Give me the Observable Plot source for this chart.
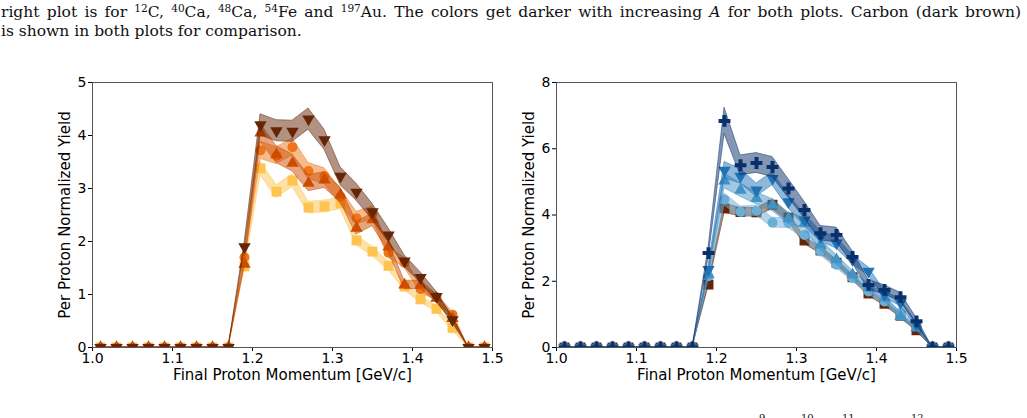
<!DOCTYPE html>
<html>
<head>
<meta charset="utf-8">
<script src="https://cdn.jsdelivr.net/npm/d3@7"></script>
<script src="https://cdn.jsdelivr.net/npm/@observablehq/plot@0.6"></script>
<style>
  html, body { margin: 0; padding: 0; background: white; overflow: hidden; }
  #page { position: relative; width: 1027px; height: 418px; overflow: hidden; }
  #caption { position: absolute; left: 1px; top: 3px; width: 1020px;
             font-family: "DejaVu Serif", serif; font-size: 15.5px; line-height: 19px; color: #111; }
  #caption .full { text-align: justify; text-align-last: justify; }
  #caption sup { font-size: 0.68em; line-height: 0; vertical-align: 0.5em; }
  .panel { position: absolute; top: 50px; }
  #next { position: absolute; top: 412px; left: 0; width: 1027px; height: 20px;
          font-family: "DejaVu Serif", serif; font-size: 10px; color: #111; }
  #next span { position: absolute; top: 0; }
</style>
</head>
<body>
<div id="page">
  <div id="caption">
    <div class="full">right plot is for <sup>12</sup>C, <sup>40</sup>Ca, <sup>48</sup>Ca, <sup>54</sup>Fe and <sup>197</sup>Au. The colors get darker with increasing <i>A</i> for both plots. Carbon (dark brown)</div>
    <div>is shown in both plots for comparison.</div>
  </div>
  <div id="left" class="panel" style="left:0px"></div>
  <div id="right" class="panel" style="left:500px"></div>
  <div id="next"><span style="left:759px">9</span><span style="left:801px">10</span><span style="left:842px">11</span><span style="left:911px">12</span></div>
</div>
<script>
// Bin centres of the final proton momentum [GeV/c]
const momentum = [1.01, 1.03, 1.05, 1.07, 1.09, 1.11, 1.13, 1.15, 1.17, 1.19, 1.21, 1.23, 1.25,
                  1.27, 1.29, 1.31, 1.33, 1.35, 1.37, 1.39, 1.41, 1.43, 1.45, 1.47, 1.49];

// Light nuclei (left panel): per proton normalized yields and band half-widths
const beryllium9    = [0,0,0,0,0,0,0,0,0, 1.53, 3.38, 2.94, 3.15, 2.64, 2.66, 2.72, 2.02, 1.81, 1.54, 1.15, 0.91, 0.73, 0.37, 0,0];
const beryllium9Err = [0,0,0,0,0,0,0,0,0, 0.05, 0.13, 0.12, 0.12, 0.11, 0.11, 0.11, 0.09, 0.09, 0.08, 0.07, 0.06, 0.06, 0.05, 0,0];
const boron10       = [0,0,0,0,0,0,0,0,0, 1.70, 3.72, 3.62, 3.78, 3.33, 3.23, 2.85, 2.44, 2.54, 1.79, 1.60, 1.10, 0.95, 0.62, 0,0];
const boron10Err    = [0,0,0,0,0,0,0,0,0, 0.06, 0.16, 0.16, 0.16, 0.15, 0.15, 0.14, 0.12, 0.12, 0.10, 0.09, 0.07, 0.06, 0.05, 0,0];
const boron11       = [0,0,0,0,0,0,0,0,0, 1.57, 4.05, 3.64, 3.48, 3.10, 3.16, 2.88, 2.25, 2.41, 1.90, 1.18, 1.18, 0.93, 0.55, 0,0];
const boron11Err    = [0,0,0,0,0,0,0,0,0, 0.06, 0.17, 0.16, 0.16, 0.15, 0.15, 0.14, 0.12, 0.12, 0.10, 0.08, 0.08, 0.07, 0.05, 0,0];

// Carbon-12, drawn in both panels
const carbon12      = [0,0,0,0,0,0,0,0,0, 1.90, 4.20, 4.09, 4.08, 4.31, 3.92, 3.23, 2.93, 2.56, 2.12, 1.63, 1.32, 0.96, 0.52, 0,0];
const carbon12ErrLeft  = [0,0,0,0,0,0,0,0,0, 0.07, 0.20, 0.20, 0.20, 0.20, 0.19, 0.17, 0.16, 0.15, 0.13, 0.11, 0.10, 0.09, 0.06, 0,0];
const carbon12ErrRight = [0,0,0,0,0,0,0,0,0, 0.06, 0.14, 0.13, 0.13, 0.13, 0.12, 0.11, 0.10, 0.09, 0.08, 0.07, 0.06, 0.05, 0.04, 0,0];

// Heavier nuclei (right panel)
const calcium40     = [0,0,0,0,0,0,0,0,0, 2.15, 4.47, 4.10, 4.13, 3.77, 3.75, 3.40, 2.90, 2.50, 2.10, 1.69, 1.39, 1.04, 0.64, 0,0];
const calcium40Err  = [0,0,0,0,0,0,0,0,0, 0.08, 0.18, 0.16, 0.15, 0.15, 0.14, 0.13, 0.12, 0.11, 0.10, 0.09, 0.08, 0.07, 0.05, 0,0];
const calcium48     = [0,0,0,0,0,0,0,0,0, 2.20, 5.03, 4.75, 4.50, 4.30, 3.90, 3.75, 3.10, 2.65, 2.20, 1.80, 1.50, 0.94, 0.59, 0,0];
const calcium48Err  = [0,0,0,0,0,0,0,0,0, 0.10, 0.22, 0.20, 0.18, 0.18, 0.17, 0.16, 0.15, 0.14, 0.12, 0.11, 0.10, 0.08, 0.06, 0,0];
const iron54        = [0,0,0,0,0,0,0,0,0, 2.35, 5.35, 5.17, 4.75, 5.10, 4.40, 3.85, 3.35, 3.15, 2.65, 2.30, 1.60, 1.35, 0.69, 0,0];
const iron54Err     = [0,0,0,0,0,0,0,0,0, 0.10, 0.25, 0.22, 0.20, 0.20, 0.20, 0.18, 0.16, 0.16, 0.14, 0.12, 0.11, 0.10, 0.07, 0,0];
const gold197       = [0,0,0,0,0,0,0,0,0, 2.85, 6.84, 5.50, 5.57, 5.45, 4.80, 4.15, 3.45, 3.40, 2.73, 1.89, 1.74, 1.52, 0.79, 0,0];
const gold197Err    = [0,0,0,0,0,0,0,0,0, 0.15, 0.40, 0.30, 0.30, 0.30, 0.28, 0.25, 0.22, 0.22, 0.18, 0.15, 0.14, 0.13, 0.10, 0,0];

// Axis ticks and labels
const xTicks = [1.0, 1.1, 1.2, 1.3, 1.4, 1.5];
const leftYTicks = [0, 1, 2, 3, 4, 5];
const rightYTicks = [0, 2, 4, 6, 8];
const xLabel = "Final Proton Momentum [GeV/c]";
const yLabel = "Per Proton Normalized Yield";

// Downward-pointing triangle marker
const triangleDown = {
  draw(context, size) {
    const y = Math.sqrt(size / (3 * Math.sqrt(3)));
    context.moveTo(0, 2 * y);
    context.lineTo(-Math.sqrt(3) * y, -y);
    context.lineTo(Math.sqrt(3) * y, -y);
    context.closePath();
  }
};

function seriesRows(values, errors) {
  return momentum.map((x, i) => ({x, y: values[i], lo: values[i] - errors[i], hi: values[i] + errors[i]}));
}

// Error band plus markers for one nucleus
function series(values, errors, color, symbol, r) {
  const data = seriesRows(values, errors);
  return [
    Plot.areaY(data, {x: "x", y1: "lo", y2: "hi", fill: color, fillOpacity: 0.5,
                      stroke: color, strokeOpacity: 0.5, strokeWidth: 1, clip: true}),
    Plot.dot(data, {x: "x", y: "y", symbol, r, fill: color, stroke: "none", clip: true})
  ];
}

function panel(yMax, yTicks, layers, marginLeft, width) {
  return Plot.plot({
    width, height: 368,
    marginLeft, marginRight: width - marginLeft - 400, marginTop: 32, marginBottom: 71,
    style: {background: "none", fontFamily: "DejaVu Sans, sans-serif", fontSize: "14px",
            color: "black", overflow: "visible"},
    x: {domain: [1.0, 1.5], ticks: xTicks, tickFormat: d3.format(".1f"), tickSize: 4, tickPadding: 2, label: null},
    y: {domain: [0, yMax], ticks: yTicks, tickFormat: d3.format("d"), tickSize: 4, tickPadding: 2, label: null},
    marks: [
      ...layers,
      Plot.frame({stroke: "#555", strokeWidth: 1}),
      Plot.text([xLabel], {frameAnchor: "bottom", dy: 28, textAnchor: "middle", lineAnchor: "middle", fontSize: 15, text: d => d}),
      Plot.text([yLabel], {frameAnchor: "left", dx: -27, rotate: -90, textAnchor: "middle", lineAnchor: "middle", fontSize: 15, text: d => d})
    ]
  });
}

const leftChart = panel(5, leftYTicks, [
  ...series(beryllium9, beryllium9Err, "#fec44f", "square", 5.6),
  ...series(boron10, boron10Err, "#ee7518", "circle", 5),
  ...series(boron11, boron11Err, "#cc4c02", "triangle", 4.6),
  ...series(carbon12, carbon12ErrLeft, "#662506", triangleDown, 4.6)
], 92, 500);

const rightChart = panel(8, rightYTicks, [
  ...series(carbon12, carbon12ErrRight, "#662506", "square", 5.6),
  ...series(calcium40, calcium40Err, "#6baed6", "circle", 5),
  ...series(calcium48, calcium48Err, "#4292c6", "triangle", 4.6),
  ...series(iron54, iron54Err, "#2171b5", triangleDown, 4.6),
  ...series(gold197, gold197Err, "#08306b", "cross", 5)
], 56, 527);

document.getElementById("left").appendChild(leftChart);
document.getElementById("right").appendChild(rightChart);
</script>
</body>
</html>
